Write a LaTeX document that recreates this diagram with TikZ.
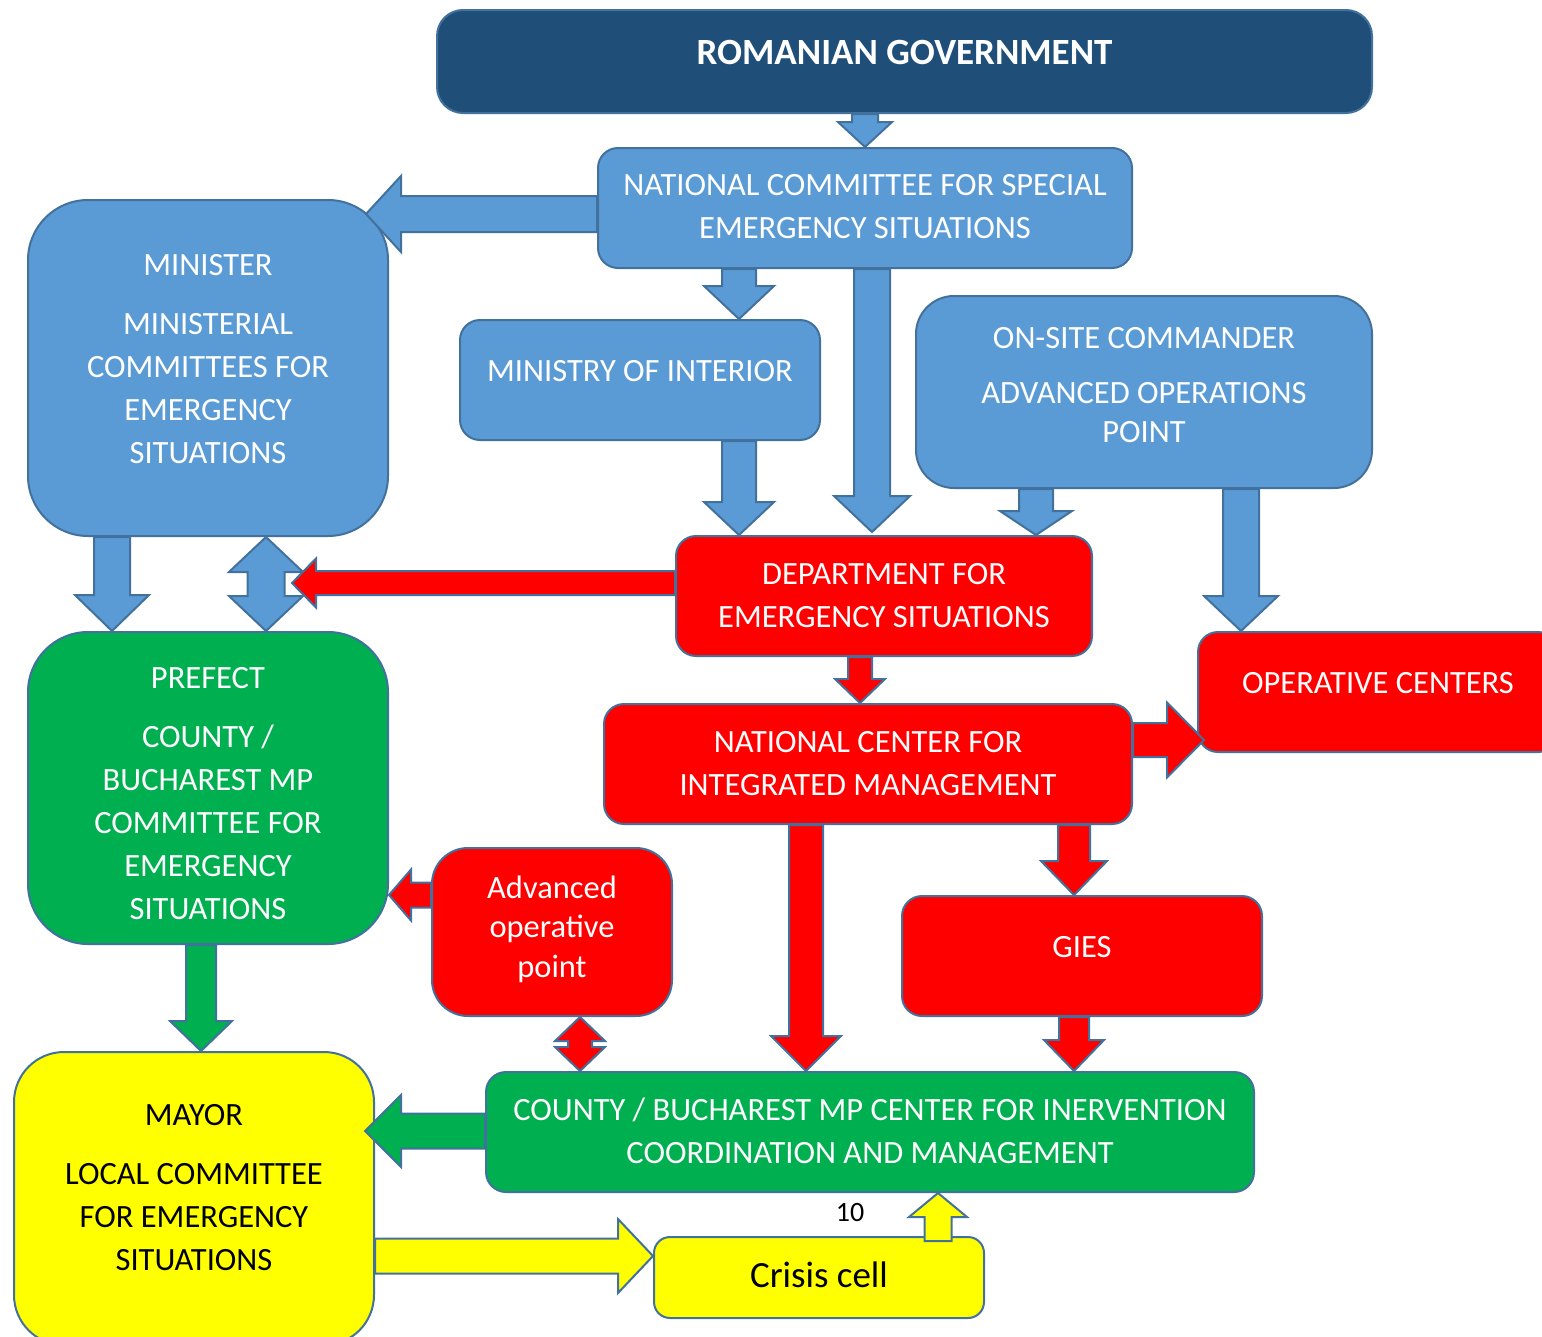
\documentclass[tikz,border=0pt]{standalone}
\usepackage{fontspec}
\setmainfont{Carlito}
\usetikzlibrary{calc}

\definecolor{govblue}{HTML}{1F4E79}
\definecolor{boxblue}{HTML}{5B9BD5}
\definecolor{edgeblue}{HTML}{41719C}
\definecolor{boxred}{HTML}{FF0000}
\definecolor{boxgreen}{HTML}{00B050}
\definecolor{boxyellow}{HTML}{FFFF00}

\tikzset{
	unit/.style={rectangle, draw=edgeblue, line width=2pt, inner sep=0pt, align=center,
		font=\fontsize{32.5}{43}\selectfont},
	govunit/.style={unit, fill=govblue, text=white, font=\fontsize{37}{43}\selectfont\bfseries},
	blueunit/.style={unit, fill=boxblue, text=white},
	redunit/.style={unit, fill=boxred, text=white},
	greenunit/.style={unit, fill=boxgreen, text=white},
	yellowunit/.style={unit, fill=boxyellow, text=black},
	link/.style={draw=edgeblue, line width=2pt},
	bluelink/.style={link, fill=boxblue},
	redlink/.style={link, fill=boxred},
	greenlink/.style={link, fill=boxgreen},
	yellowlink/.style={link, fill=boxyellow}
}

% block arrow: style, from, to, shaft half width, head half width, head length
\newcommand\blockarrow[6]{%
	\coordinate (ba-a) at (#2);
	\coordinate (ba-b) at (#3);
	\coordinate (ba-n) at ($(ba-b)!#6pt!(ba-a)$);
	\draw[#1] ($(ba-a)!#4pt!90:(ba-b)$) -- ($(ba-n)!#4pt!90:(ba-b)$)
		-- ($(ba-n)!#5pt!90:(ba-b)$) -- (ba-b)
		-- ($(ba-n)!#5pt!-90:(ba-b)$) -- ($(ba-n)!#4pt!-90:(ba-b)$)
		-- ($(ba-a)!#4pt!-90:(ba-b)$) -- cycle;
}
% same with a head on both ends
\newcommand\dblarrow[6]{%
	\coordinate (da-a) at (#2);
	\coordinate (da-b) at (#3);
	\coordinate (da-m) at ($(da-a)!#6pt!(da-b)$);
	\coordinate (da-n) at ($(da-b)!#6pt!(da-a)$);
	\draw[#1] (da-a) -- ($(da-m)!#5pt!90:(da-b)$) -- ($(da-m)!#4pt!90:(da-b)$)
		-- ($(da-n)!#4pt!90:(da-b)$) -- ($(da-n)!#5pt!90:(da-b)$) -- (da-b)
		-- ($(da-n)!#5pt!-90:(da-b)$) -- ($(da-n)!#4pt!-90:(da-b)$)
		-- ($(da-m)!#4pt!-90:(da-b)$) -- ($(da-m)!#5pt!-90:(da-b)$) -- cycle;
}

\begin{document}
\begin{tikzpicture}[x=1pt, y=-1pt]
	\useasboundingbox (0,0) rectangle (1542,1336);

	% units
	\node[govunit, minimum width=935, minimum height=103, rounded corners=26pt,
		text height=6pt, text depth=0pt] (gov) at (904.5,61.5) {ROMANIAN GOVERNMENT};
	\node[blueunit, minimum width=534, minimum height=120, rounded corners=20pt,
		text height=60pt, text depth=0pt] (ncse) at (865,208)
		{NATIONAL COMMITTEE FOR SPECIAL\\EMERGENCY SITUATIONS};
	\node[blueunit, minimum width=360, minimum height=336, rounded corners=60pt,
		text height=190pt, text depth=0pt] (minister) at (208,368)
		{MINISTER\\[16pt]MINISTERIAL\\COMMITTEES FOR\\EMERGENCY\\SITUATIONS};
	\node[blueunit, minimum width=360, minimum height=120, rounded corners=20pt,
		text height=2pt, text depth=0pt] (moi) at (640,380) {MINISTRY OF INTERIOR};
	\node[blueunit, minimum width=456, minimum height=192, rounded corners=38pt,
		text height=100pt, text depth=0pt, font=\fontsize{32.5}{39}\selectfont] (osc) at (1144,392)
		{ON-SITE COMMANDER\\[16pt]ADVANCED OPERATIONS\\POINT};
	\node[redunit, minimum width=416, minimum height=120, rounded corners=20pt,
		text height=62pt, text depth=0pt] (des) at (884,596)
		{DEPARTMENT FOR\\EMERGENCY SITUATIONS};
	\node[redunit, minimum width=360, minimum height=120, rounded corners=20pt,
		text height=2pt, text depth=0pt] (opc) at (1378,692) {OPERATIVE CENTERS};
	\node[redunit, minimum width=528, minimum height=120, rounded corners=20pt,
		text height=62pt, text depth=0pt] (ncim) at (868,764)
		{NATIONAL CENTER FOR\\INTEGRATED MANAGEMENT};
	\node[greenunit, minimum width=360, minimum height=312, rounded corners=60pt,
		text height=262pt, text depth=0pt] (prefect) at (208,788)
		{PREFECT\\[16pt]COUNTY /\\BUCHAREST MP\\COMMITTEE FOR\\EMERGENCY\\SITUATIONS};
	\node[redunit, minimum width=240, minimum height=168, rounded corners=36pt,
		text height=90pt, text depth=0pt, font=\fontsize{32.5}{39.5}\selectfont] (aop) at (552,932)
		{Advanced\\operative\\point};
	\node[redunit, minimum width=360, minimum height=120, rounded corners=20pt,
		text height=2pt, text depth=0pt] (gies) at (1082,956) {GIES};
	\node[greenunit, minimum width=768, minimum height=120, rounded corners=20pt,
		text height=62pt, text depth=0pt] (cty) at (870,1132)
		{COUNTY / BUCHAREST MP CENTER FOR INERVENTION\\COORDINATION AND MANAGEMENT};
	\node[yellowunit, minimum width=360, minimum height=293, rounded corners=50pt,
		text height=143pt, text depth=0pt] (mayor) at (194,1198.5)
		{MAYOR\\[16pt]LOCAL COMMITTEE\\FOR EMERGENCY\\SITUATIONS};
	\node[yellowunit, minimum width=330, minimum height=81, rounded corners=16pt,
		text height=19pt, text depth=0pt, font=\fontsize{37}{43}\selectfont] (cri) at (819,1277.5)
		{Crisis cell};
	\node[anchor=base, inner sep=0pt, font=\fontsize{28}{30}\selectfont] (pagenum) at (850,1221) {10};

	% lanes of the arrows
	\coordinate (lx-moi) at (739,0);
	\coordinate (lx-ncse) at (872,0);
	\coordinate (lx-osc) at (1036,0);
	\coordinate (lx-opc) at (1241,0);
	\coordinate (lx-min) at (112,0);
	\coordinate (lx-mp) at (266,0);
	\coordinate (lx-des) at (860,0);
	\coordinate (lx-cty) at (806,0);
	\coordinate (lx-gies) at (1074,0);
	\coordinate (lx-aop) at (580,0);
	\coordinate (lx-pref) at (201,0);
	\coordinate (lx-cri) at (938,0);
	\coordinate (ly-min) at (0,214);
	\coordinate (ly-des) at (0,583);
	\coordinate (ly-opc) at (0,740);
	\coordinate (ly-aop) at (0,895);
	\coordinate (ly-cty) at (0,1131);
	\coordinate (ly-may) at (0,1256);

	% blue arrows
	\blockarrow{bluelink}{gov.south -| ncse.north}{ncse.north}{13}{27}{25}
	\blockarrow{bluelink}{ncse.west |- ly-min}{$(minister.east |- ly-min)+(-23,0)$}{18}{38}{35}
	\blockarrow{bluelink}{ncse.south -| lx-moi}{moi.north -| lx-moi}{17}{35}{33}
	\blockarrow{bluelink}{moi.south -| lx-moi}{des.north -| lx-moi}{17}{35}{33}
	\blockarrow{bluelink}{ncse.south -| lx-ncse}{$(des.north -| lx-ncse)+(0,-3)$}{18}{38}{36}
	\blockarrow{bluelink}{osc.south -| lx-osc}{des.north -| lx-osc}{17}{36}{24}
	\blockarrow{bluelink}{osc.south -| lx-opc}{opc.north -| lx-opc}{18}{37}{35}
	\blockarrow{bluelink}{minister.south -| lx-min}{prefect.north -| lx-min}{18}{37}{36}
	\dblarrow{bluelink}{minister.south -| lx-mp}{prefect.north -| lx-mp}{18.5}{37}{35}

	% red arrows
	\blockarrow{redlink}{des.west |- ly-des}{$(lx-mp |- ly-des)+(26,0)$}{12}{24.5}{24}
	\blockarrow{redlink}{des.south -| lx-des}{ncim.north -| lx-des}{12}{25}{24}
	\blockarrow{redlink}{ncim.east |- ly-opc}{$(opc.west |- ly-opc)+(7,0)$}{17}{37.5}{37}
	\blockarrow{redlink}{ncim.south -| lx-cty}{cty.north -| lx-cty}{17}{35}{35}
	\blockarrow{redlink}{ncim.south -| lx-gies}{gies.north -| lx-gies}{16}{33}{34}
	\blockarrow{redlink}{gies.south -| lx-gies}{cty.north -| lx-gies}{15}{30}{31}
	\blockarrow{redlink}{aop.west |- ly-aop}{prefect.east |- ly-aop}{12.5}{25.5}{22}
	\dblarrow{redlink}{aop.south -| lx-aop}{cty.north -| lx-aop}{12}{25}{24}

	% green and yellow arrows
	\blockarrow{greenlink}{prefect.south -| lx-pref}{mayor.north -| lx-pref}{15}{31}{30}
	\blockarrow{greenlink}{cty.west |- ly-cty}{$(mayor.east |- ly-cty)+(-10,0)$}{17.5}{36}{36}
	\blockarrow{yellowlink}{mayor.east |- ly-may}{cri.west |- ly-may}{17.5}{37}{35}
	\blockarrow{yellowlink}{$(cri.north -| lx-cri)+(0,5)$}{cty.south -| lx-cri}{13.5}{29}{24}
\end{tikzpicture}
\end{document}
